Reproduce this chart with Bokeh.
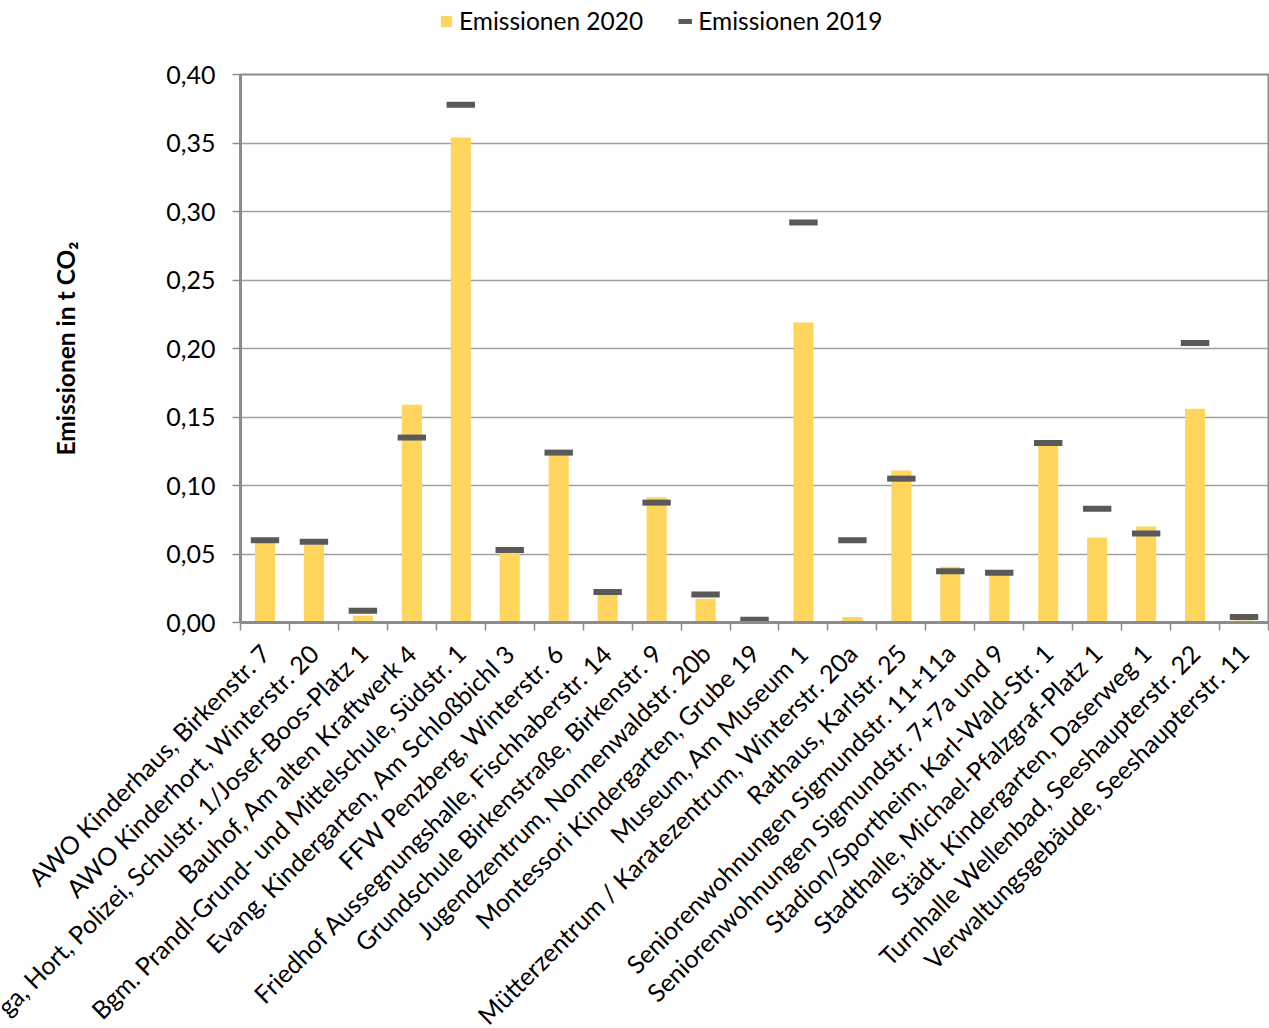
import math
from bokeh.plotting import figure
from bokeh.layouts import column
from bokeh.models import (FixedTicker, Legend, LegendItem, Range1d,
                          CustomJSTickFormatter, ColumnDataSource)
from bokeh.embed import file_html
from bokeh.resources import INLINE

categories = [
    "AWO Kinderhaus, Birkenstr. 7",
    "AWO Kinderhort, Winterstr. 20",
    "ga, Hort, Polizei, Schulstr. 1/Josef-Boos-Platz 1",
    "Bauhof, Am alten Kraftwerk 4",
    "Bgm. Prandl-Grund- und Mittelschule, Südstr. 1",
    "Evang. Kindergarten, Am Schloßbichl 3",
    "FFW Penzberg, Winterstr. 6",
    "Friedhof Aussegnungshalle, Fischhaberstr. 14",
    "Grundschule Birkenstraße, Birkenstr. 9",
    "Jugendzentrum, Nonnenwaldstr. 20b",
    "Montessori Kindergarten, Grube 19",
    "Museum, Am Museum 1",
    "Mütterzentrum / Karatezentrum, Winterstr. 20a",
    "Rathaus, Karlstr. 25",
    "Seniorenwohnungen Sigmundstr. 11+11a",
    "Seniorenwohnungen Sigmundstr. 7+7a und 9",
    "Stadion/Sportheim, Karl-Wald-Str. 1",
    "Stadthalle, Michael-Pfalzgraf-Platz 1",
    "Städt. Kindergarten, Daserweg 1",
    "Turnhalle Wellenbad, Seeshaupterstr. 22",
    "Verwaltungsgebäude, Seeshaupterstr. 11",
]
emissionen_2020 = [0.058, 0.057, 0.005, 0.159, 0.354, 0.0505, 0.122, 0.020, 0.0915, 0.0173,
                   0.0005, 0.219, 0.004, 0.111, 0.0407, 0.035, 0.129, 0.062, 0.070, 0.156, 0.0015]
emissionen_2019 = [0.060, 0.059, 0.0085, 0.135, 0.378, 0.053, 0.124, 0.0223, 0.0875, 0.0205,
                   0.002, 0.292, 0.060, 0.105, 0.0375, 0.0364, 0.131, 0.083, 0.065, 0.204, 0.004]
y_ticks = [0.0, 0.05, 0.10, 0.15, 0.20, 0.25, 0.30, 0.35, 0.40]

FONT = "Lato"
GRAY = "#8C8C8C"
BAR_COLOR = "#FFD55E"
DASH_COLOR = "#595959"

n = len(categories)
xs = list(range(1, n + 1))
half = 0.29
src = ColumnDataSource(dict(
    x=xs, cat=categories, v20=emissionen_2020, v19=emissionen_2019,
    x0=[x - half for x in xs], x1=[x + half for x in xs],
))

# ---------------- main chart ----------------
p = figure(frame_width=1028, frame_height=548, output_backend="svg", toolbar_location=None,
           x_range=Range1d(0.5, n + 0.5), y_range=Range1d(0, y_ticks[-1]),
           min_border_left=240, min_border_right=1, min_border_top=22, min_border_bottom=400)
p.background_fill_color = "white"
p.outline_line_color = GRAY
p.outline_line_width = 2

bars = p.vbar(x="x", top="v20", width=0.41, source=src, fill_color=BAR_COLOR, line_color=None)
dash = p.segment(x0="x0", y0="v19", x1="x1", y1="v19", source=src,
                 line_color=DASH_COLOR, line_width=6, line_cap="butt")

xa = p.xaxis[0]
xa.ticker = FixedTicker(ticks=xs, minor_ticks=[k + 0.5 for k in range(0, n + 1)])
xa.major_label_overrides = {x: c for x, c in zip(xs, categories)}
xa.major_label_orientation = math.pi / 4
xa.major_tick_line_color = None
xa.minor_tick_line_color = GRAY
xa.minor_tick_line_width = 1.5
xa.minor_tick_out = 8
xa.minor_tick_in = 0
xa.axis_line_color = GRAY
xa.axis_line_width = 3
xa.major_label_text_font = FONT
xa.major_label_text_font_size = "25px"
xa.major_label_text_color = "black"
xa.major_label_standoff = 18

ya = p.yaxis[0]
ya.ticker = FixedTicker(ticks=y_ticks)
ya.formatter = CustomJSTickFormatter(code="return tick.toFixed(2).replace('.', ',');")
ya.axis_line_color = GRAY
ya.axis_line_width = 3
ya.major_tick_line_color = GRAY
ya.major_tick_line_width = 1.5
ya.major_tick_out = 8
ya.major_tick_in = 0
ya.minor_tick_line_color = None
ya.major_label_text_font = FONT
ya.major_label_text_font_size = "25px"
ya.major_label_text_color = "black"
ya.major_label_standoff = 17
ya.axis_label = "Emissionen in t CO₂"
ya.axis_label_text_font = FONT
ya.axis_label_text_font_style = "bold"
ya.axis_label_text_font_size = "24.5px"
ya.axis_label_text_color = "black"
ya.axis_label_standoff = 83

p.xgrid.visible = False
p.ygrid.grid_line_color = "#A0A0A0"
p.ygrid.grid_line_width = 1.5

# ---------------- legend strip above the chart ----------------
lg = figure(width=1269, height=52, output_backend="svg", toolbar_location=None,
            x_axis_location=None, y_axis_location=None,
            x_range=Range1d(0, 1), y_range=Range1d(0, 1),
            min_border=0)
lg.outline_line_color = None
lg.xgrid.visible = False
lg.ygrid.visible = False
nan = float("nan")
proxy = ColumnDataSource(dict(x=[nan], top=[nan], x0=[nan], x1=[nan], y=[nan]))
lg_bar = lg.vbar(x="x", top="top", width=0.1, source=proxy, fill_color=BAR_COLOR, line_color=None)
lg_dash = lg.segment(x0="x0", y0="y", x1="x1", y1="y", source=proxy,
                     line_color=DASH_COLOR, line_width=5, line_cap="butt")
legend = Legend(items=[LegendItem(label="Emissionen 2020", renderers=[lg_bar]),
                       LegendItem(label="Emissionen 2019", renderers=[lg_dash])],
                orientation="horizontal", location=(199, 17),
                label_text_font=FONT, label_text_font_size="24.5px", label_text_color="black",
                glyph_width=14, glyph_height=14, spacing=35, label_standoff=6,
                border_line_color=None, background_fill_alpha=0, padding=0, margin=0)
lg.add_layout(legend)

layout = column(lg, p, spacing=0)
open("out.html", "w").write(file_html(layout, INLINE))
